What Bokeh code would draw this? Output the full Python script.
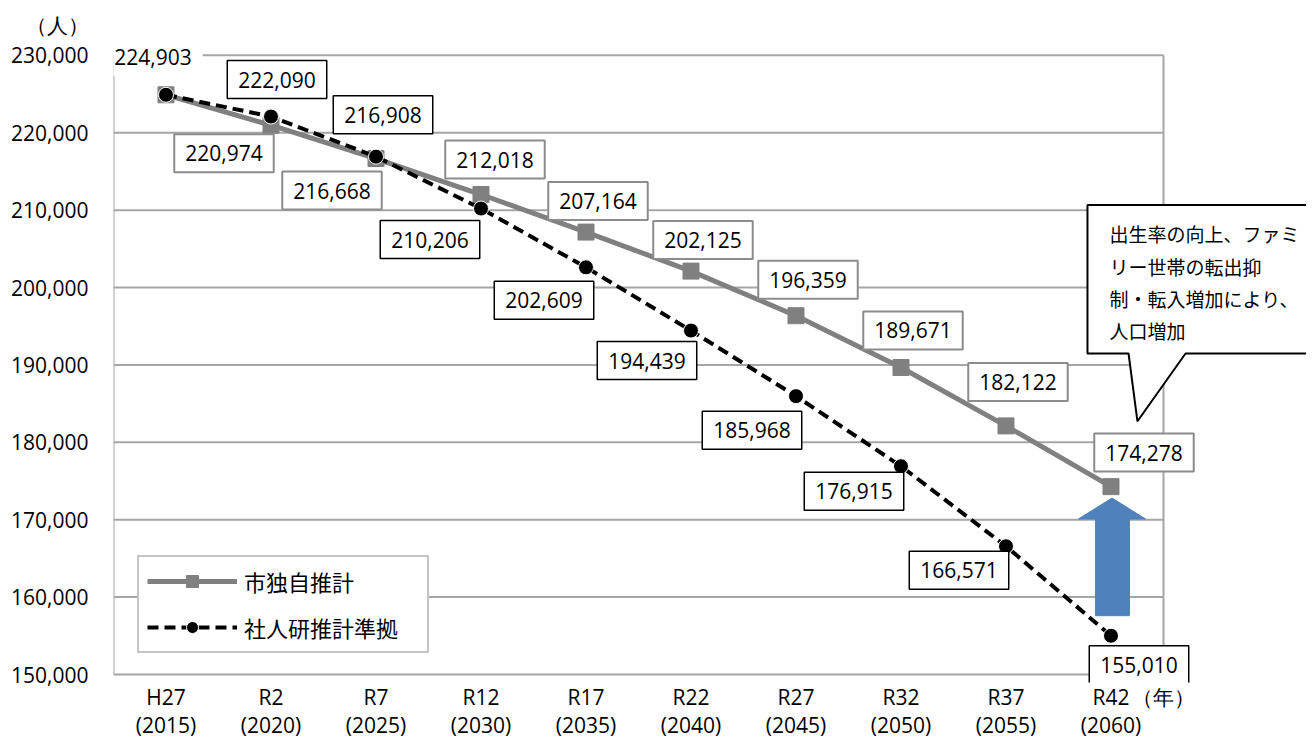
from bokeh.plotting import figure
from bokeh.models import (Range1d, FixedTicker, NumeralTickFormatter, Label,
                          PolyAnnotation, Legend, LegendItem)
from bokeh.embed import file_html
from bokeh.resources import INLINE

# ---- data ----
era_labels = ["H27", "R2", "R7", "R12", "R17", "R22", "R27", "R32", "R37", "R42"]
years = [2015, 2020, 2025, 2030, 2035, 2040, 2045, 2050, 2055, 2060]
city_est = [224903, 220974, 216668, 212018, 207164, 202125, 196359, 189671, 182122, 174278]
ipss_est = [224903, 222090, 216908, 210206, 202609, 194439, 185968, 176915, 166571, 155010]
series_names = ["市独自推計", "社人研推計準拠"]
y_ticks = list(range(150000, 230001, 10000))
y_unit = "（人）"
x_unit = "（年）"
callout_lines = ["出生率の向上、ファミ", "リー世帯の転出抑", "制・転入増加により、", "人口増加"]

# ---- label placement (pixel offsets, styling only) ----
city_dx = [None, -47, -44, 14, 12, 12, 12, 12, 12, 33]
city_dy = [None, -28, -32, 35, 31, 31, 36, 37, 44, 34]
ipss_dx = [-13, 6, 7, -51, -42, -44, -44, -47, -47, 28]
ipss_dy = [38, 37, 42, -31, -33, -30, -34, -25, -24, -29]
Y_UNIT_POS = 233865   # where the unit text sits on the y axis
X_UNIT_POS = 10.0     # where the unit text sits on the x axis

GREY = "#808080"
GRID = "#a6a6a6"
NUM_FONT = "Open Sans"
JP_FONT = "Noto Sans CJK JP"
W, H = 1306, 741

xs = [i + 0.5 for i in range(len(era_labels))]
n = len(era_labels)

p = figure(width=W, height=H, output_backend="svg", toolbar_location=None,
           title=None, x_range=Range1d(0, 11.362), y_range=Range1d(148969, 237085),
           min_border_left=113, min_border_right=0, min_border_top=0,
           min_border_bottom=57)
p.outline_line_color = None
p.background_fill_color = "white"
p.border_fill_color = "white"
p.xgrid.visible = False
p.ygrid.visible = False

# axes
p.xaxis.ticker = FixedTicker(ticks=xs + [X_UNIT_POS])
overrides = {x: f"{e}\n({y})" for x, e, y in zip(xs, era_labels, years)}
overrides[X_UNIT_POS] = x_unit
p.xaxis.major_label_overrides = overrides
p.yaxis.ticker = FixedTicker(ticks=y_ticks + [Y_UNIT_POS])
p.yaxis.formatter = NumeralTickFormatter(format="0,0")
p.yaxis.major_label_overrides = {Y_UNIT_POS: y_unit}
for ax in (p.xaxis, p.yaxis):
    ax.axis_line_color = None
    ax.major_tick_line_color = None
    ax.minor_tick_line_color = None
    ax.major_tick_out = 0
    ax.major_tick_in = 0
    ax.major_label_text_font = NUM_FONT
    ax.major_label_text_font_size = "21px"
    ax.major_label_text_color = "black"
p.yaxis.major_label_standoff = 25
p.xaxis.major_label_standoff = 0
p.xaxis.major_label_text_line_height = 1.0

# grid lines and plot-area frame (bounded to the category span)
p.segment(x0=[0] * len(y_ticks), x1=[n] * len(y_ticks), y0=y_ticks, y1=y_ticks,
          line_color=GRID, line_width=2)
p.segment(x0=[0, n], x1=[0, n], y0=[y_ticks[0]] * 2, y1=[y_ticks[-1]] * 2,
          line_color=GRID, line_width=2)

# arrow (annotation)
arrow_x = [9.352, 9.352, 9.190, 9.510, 9.829, 9.676, 9.676]
arrow_y = [157601, 170097, 170097, 172802, 170097, 170097, 157601]
p.patch(arrow_x, arrow_y, fill_color="#4F81BD", line_color="#4F81BD", line_width=1)

# series
r1 = p.line(xs, city_est, line_color=GREY, line_width=5)
r1m = p.scatter(xs, city_est, marker="square", size=16, fill_color=GREY, line_color=GREY)
r2 = p.line(xs, ipss_est, line_color="black", line_width=4, line_dash="11 6")
r2m = p.scatter(xs, ipss_est, marker="circle", size=15, fill_color="black", line_color="white", line_width=1)

PAD = (11, 11)
# data labels
for i, (x, v) in enumerate(zip(xs, city_est)):
    if city_dx[i] is None:
        continue
    p.add_layout(Label(x=x, y=v, x_offset=city_dx[i], y_offset=city_dy[i], text=f"{v:,}",
                       text_font=NUM_FONT, text_font_size="21px", text_color="black",
                       text_align="center", text_baseline="middle",
                       background_fill_color="white", border_line_color="#8c8c8c",
                       border_line_width=2, padding=PAD))
for i, (x, v) in enumerate(zip(xs, ipss_est)):
    if i == 0:
        p.add_layout(Label(x=x, y=v, x_offset=ipss_dx[i], y_offset=ipss_dy[i], text=f"{v:,}",
                           text_font=NUM_FONT, text_font_size="21px", text_color="black",
                           text_align="center", text_baseline="middle",
                           background_fill_color="white", padding=PAD))
        continue
    p.add_layout(Label(x=x, y=v, x_offset=ipss_dx[i], y_offset=ipss_dy[i], text=f"{v:,}",
                       text_font=NUM_FONT, text_font_size="21px", text_color="black",
                       text_align="center", text_baseline="middle",
                       background_fill_color="white", border_line_color="black",
                       border_line_width=1.5, padding=PAD))

# callout
p.add_layout(PolyAnnotation(
    xs=[9.276, 11.6, 11.6, 10.21, 9.752, 9.667, 9.276],
    ys=[210676, 210676, 191482, 191482, 182721, 191482, 191482],
    fill_color="white", fill_alpha=1, line_color="black", line_width=2, line_alpha=1))
callout_y = [206940, 202689, 198567, 194444]
for t, yy in zip(callout_lines, callout_y):
    p.add_layout(Label(x=9.486, y=yy, text=t, text_font=JP_FONT, text_font_size="19px",
                       text_color="black", text_align="left", text_baseline="middle"))

# legend
legend = Legend(items=[LegendItem(label=series_names[0], renderers=[r1, r1m]),
                       LegendItem(label=series_names[1], renderers=[r2, r2m])],
                location=(24, 29), orientation="vertical")
legend.label_text_font = JP_FONT
legend.label_text_font_size = "22px"
legend.label_text_color = "black"
legend.border_line_color = "#8c8c8c"
legend.border_line_width = 2
legend.background_fill_color = "white"
legend.background_fill_alpha = 1
legend.glyph_width = 90
legend.glyph_height = 30
legend.label_standoff = 7
legend.padding = 8
legend.spacing = 14
legend.label_height = 25
legend.label_width = 175
legend.margin = 0
p.add_layout(legend)

open("out.html", "w").write(file_html(p, INLINE))
